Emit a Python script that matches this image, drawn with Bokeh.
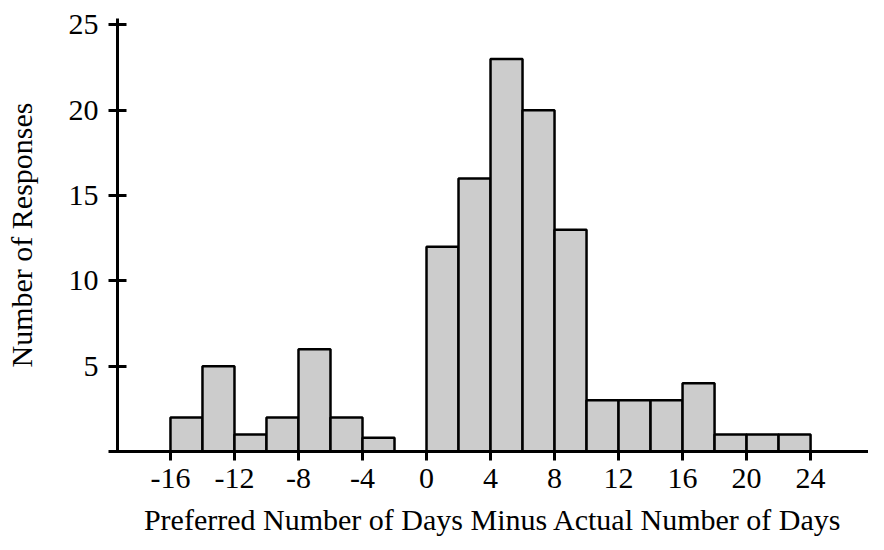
from bokeh.plotting import figure
from bokeh.models import Range1d, FixedTicker, ColumnDataSource
from bokeh.embed import file_html
from bokeh.resources import INLINE

# Histogram data: bin edges (width 2) and counts
bin_left = [-16, -14, -12, -10, -8, -6, -4, 0, 2, 4, 6, 8, 10, 12, 14, 16, 18, 20, 22]
bin_right = [-14, -12, -10, -8, -6, -4, -2, 2, 4, 6, 8, 10, 12, 14, 16, 18, 20, 22, 24]
counts = [2, 5, 1, 2, 6, 2, 0.8, 12, 16, 23, 20, 13, 3, 3, 3, 4, 1, 1, 1]

x_ticks = [-16, -12, -8, -4, 0, 4, 8, 12, 16, 20, 24]
x_tick_labels = ["-16", "-12", "-8", "-4", "0", "4", "8", "12", "16", "20", "24"]
y_ticks = [0, 5, 10, 15, 20, 25]

FONT = "Liberation Serif"
FS = "30px"

src = ColumnDataSource(dict(left=bin_left, right=bin_right, top=counts,
                            bottom=[0] * len(counts)))

p = figure(width=868, height=534, output_backend="svg", toolbar_location=None,
           x_range=Range1d(-19.31, 27.62), y_range=Range1d(0, 25.38),
           min_border_left=117, min_border_right=0, min_border_top=18,
           min_border_bottom=83)
p.frame_width = 751
p.frame_height = 433

p.quad(left="left", right="right", top="top", bottom="bottom", source=src,
       fill_color="#cccccc", line_color="black", line_width=2.5)

p.outline_line_color = None
p.xgrid.visible = False
p.ygrid.visible = False

xa = p.xaxis[0]
xa.ticker = FixedTicker(ticks=x_ticks)
xa.major_label_overrides = dict(zip(x_ticks, x_tick_labels))
xa.minor_tick_line_color = None
xa.major_tick_out = 9
xa.major_tick_in = 0
xa.major_tick_line_width = 3
xa.axis_line_width = 3
xa.major_label_text_font = FONT
xa.major_label_text_font_size = FS
xa.major_label_text_color = "black"
xa.major_label_standoff = 8
xa.axis_label = "Preferred Number of Days Minus Actual Number of Days"
xa.axis_label_text_font = FONT
xa.axis_label_text_font_size = FS
xa.axis_label_text_font_style = "normal"
xa.axis_label_text_color = "black"
xa.axis_label_standoff = 12

ya = p.yaxis[0]
ya.ticker = FixedTicker(ticks=y_ticks)
ya.major_label_overrides = {0: ""}
ya.minor_tick_line_color = None
ya.major_tick_out = 9
ya.major_tick_in = 9
ya.major_tick_line_width = 3
ya.axis_line_width = 3
ya.major_label_text_font = FONT
ya.major_label_text_font_size = FS
ya.major_label_text_color = "black"
ya.major_label_standoff = 10
ya.axis_label = "Number of Responses"
ya.axis_label_text_font = FONT
ya.axis_label_text_font_size = FS
ya.axis_label_text_font_style = "normal"
ya.axis_label_text_color = "black"
ya.axis_label_standoff = 28

open("out.html", "w").write(file_html(p, INLINE))
